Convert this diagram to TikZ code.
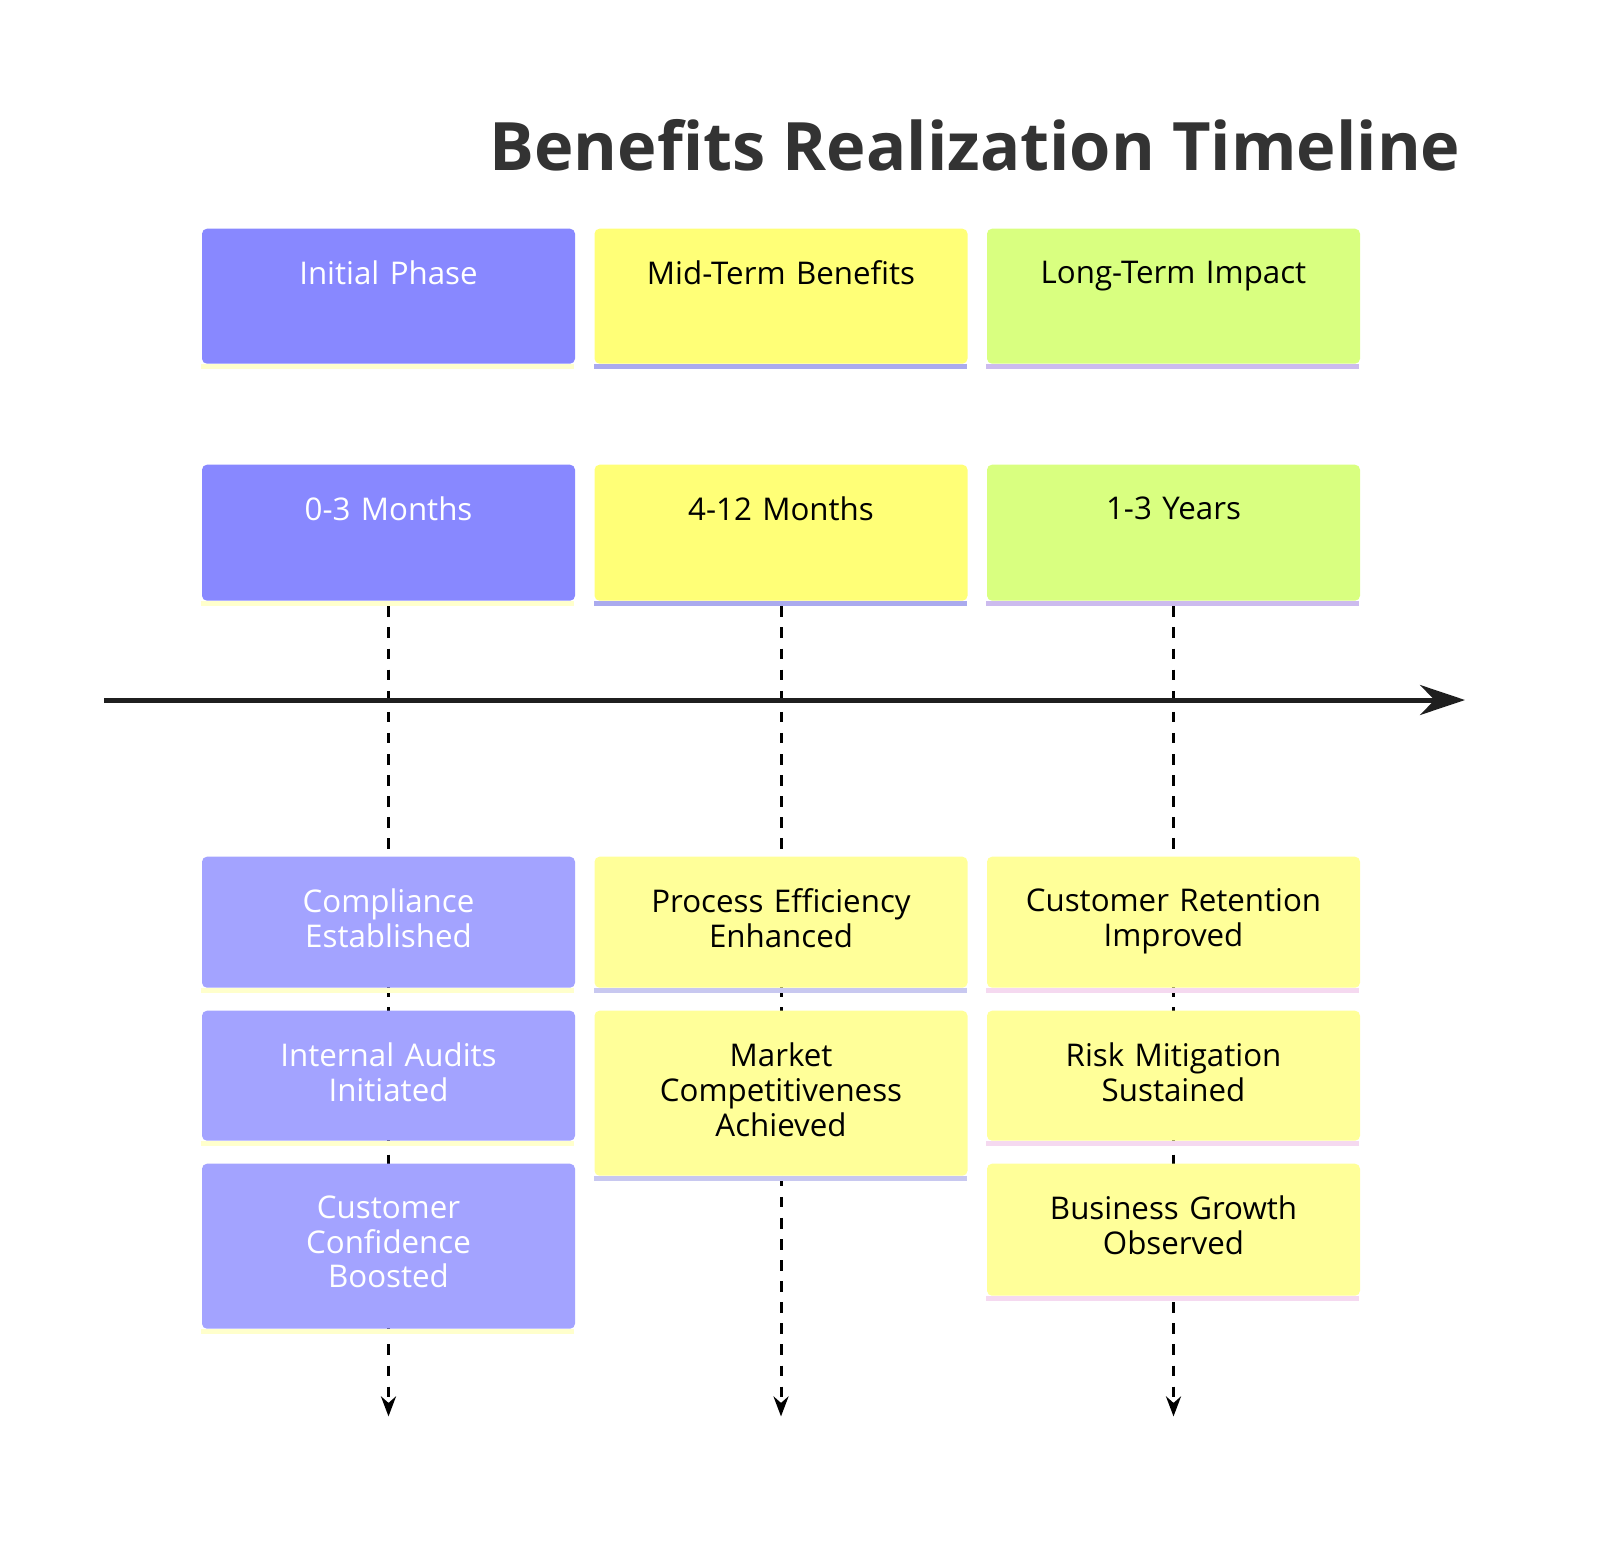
\documentclass[tikz,border=0pt]{standalone}
\usepackage{fontspec}
\setmainfont{Open Sans}
\usetikzlibrary{positioning,calc,arrows.meta,backgrounds}
\definecolor{phaseBlue}{RGB}{136,136,255}
\definecolor{phaseYellow}{RGB}{255,255,119}
\definecolor{phaseGreen}{RGB}{217,255,128}
\definecolor{itemBlue}{RGB}{163,163,255}
\definecolor{itemYellow}{RGB}{255,255,153}
\definecolor{stripeCream}{RGB}{255,255,204}
\definecolor{stripeLilac}{RGB}{170,170,238}
\definecolor{stripeMauve}{RGB}{204,187,238}
\definecolor{stripePale}{RGB}{200,200,240}
\definecolor{stripePink}{RGB}{245,217,240}
\definecolor{inkDark}{RGB}{51,51,51}
\tikzset{
  box/.style={rectangle,rounded corners=0.05cm,minimum width=3.73cm,inner sep=0pt,anchor=north},
  lbl/.style={anchor=north,yshift=-0.32cm,inner sep=0pt,align=center,text width=3.5cm,font=\fontsize{8.9}{9.9}\selectfont},
  white lbl/.style={lbl,text=white},
  dark lbl/.style={lbl,text=black},
  timeflow/.style={dashed,line width=0.03cm,-{Stealth[length=0.2cm,width=0.15cm]}},
}
% box with coloured strip along its bottom edge
\newcommand\phasebox[7]{%
  \node[box,fill=#3,minimum height=#2 cm,label={[#5]north:{#6}}] (#7) at #1 {};
  \fill[#4] (#7.south west) rectangle ++(3.73,-0.05);
}
\begin{document}
\begin{tikzpicture}
  \node[font=\fontsize{19}{23}\selectfont\bfseries,text=inkDark] (title) at (9.75,-1.45) {Benefits Realization Timeline};

  % phase headers
  \phasebox{(3.885,-2.28)}{1.35}{phaseBlue}{stripeCream}{white lbl}{Initial Phase}{h1}
  \phasebox{(7.81,-2.28)}{1.35}{phaseYellow}{stripeLilac}{dark lbl}{Mid-Term Benefits}{h2}
  \phasebox{(11.735,-2.28)}{1.35}{phaseGreen}{stripeMauve}{dark lbl}{Long-Term Impact}{h3}

  % periods
  \phasebox{(3.885,-4.64)}{1.36}{phaseBlue}{stripeCream}{white lbl}{0-3 Months}{p1}
  \phasebox{(7.81,-4.64)}{1.36}{phaseYellow}{stripeLilac}{dark lbl}{4-12 Months}{p2}
  \phasebox{(11.735,-4.64)}{1.36}{phaseGreen}{stripeMauve}{dark lbl}{1-3 Years}{p3}

  % benefits
  \phasebox{(3.885,-8.56)}{1.31}{itemBlue}{stripeCream}{white lbl}{Compliance\\Established}{b11}
  \phasebox{(3.885,-10.10)}{1.30}{itemBlue}{stripeCream}{white lbl}{Internal Audits\\Initiated}{b12}
  \phasebox{(3.885,-11.63)}{1.65}{itemBlue}{stripeCream}{white lbl}{Customer\\Confidence\\Boosted}{b13}
  \phasebox{(7.81,-8.56)}{1.31}{itemYellow}{stripePale}{dark lbl}{Process Efficiency\\Enhanced}{b21}
  \phasebox{(7.81,-10.10)}{1.65}{itemYellow}{stripePale}{dark lbl}{Market\\Competitiveness\\Achieved}{b22}
  \phasebox{(11.735,-8.56)}{1.31}{itemYellow}{stripePink}{dark lbl}{Customer Retention\\Improved}{b31}
  \phasebox{(11.735,-10.10)}{1.30}{itemYellow}{stripePink}{dark lbl}{Risk Mitigation\\Sustained}{b32}
  \phasebox{(11.735,-11.63)}{1.32}{itemYellow}{stripePink}{dark lbl}{Business Growth\\Observed}{b33}

  \coordinate (axisL) at (1.04,-7.00);
  \coordinate (axisR) at (14.65,-7.00);
  \foreach \c in {1,2,3} \coordinate (end\c) at ($(p\c.south)+(0,-8.15)$);

  \begin{scope}[on background layer]
    \foreach \c in {1,2,3} \draw[timeflow] ($(p\c.south)+(0,-0.05)$) -- (end\c);
  \end{scope}
  \draw[line width=0.05cm,-{Stealth[length=0.45cm,width=0.3cm]},inkDark!60!black] (axisL) -- (axisR);

  \pgfresetboundingbox
  \useasboundingbox (0,0) rectangle (16,-15.42);
\end{tikzpicture}
\end{document}
